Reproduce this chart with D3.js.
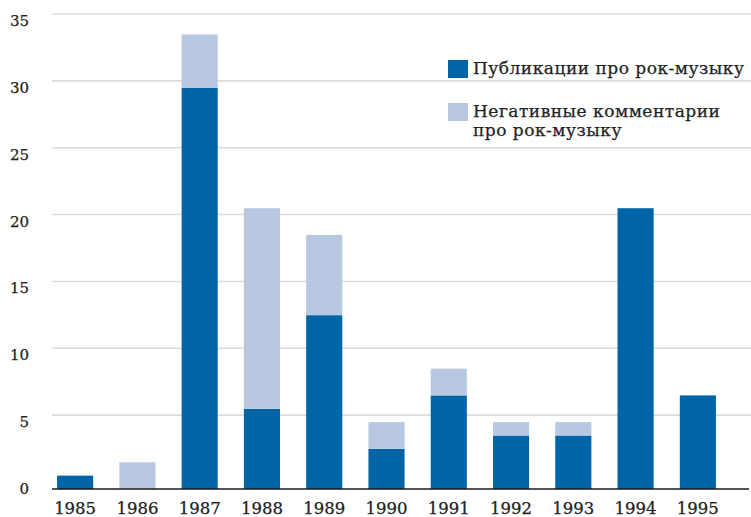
<!DOCTYPE html>
<html>
<head>
<meta charset="utf-8">
<script src="https://cdn.jsdelivr.net/npm/d3@7"></script>
<style>
  body { margin: 0; background: #fff; }
  text { font-family: "DejaVu Serif", serif; fill: #222; stroke: #222; stroke-width: 0.25px; }
</style>
</head>
<body>
<div id="chart"></div>
<script>
// data
let years = ['1985', '1986', '1987', '1988', '1989', '1990', '1991', '1992', '1993', '1994', '1995'];
let publications = [1, 0, 30, 6, 13, 3, 7, 4, 4, 21, 7];
let negative = [0, 2, 4, 15, 6, 2, 2, 1, 1, 0, 0];
let yTicks = [0, 5, 10, 15, 20, 25, 30, 35];
let legendLines = [['Публикации про рок-музыку'], ['Негативные комментарии', 'про рок-музыку']];

let config = {
    svg: {width: 751, height: 517},
    plot: {left: 52, right: 751, x0: 44, x1: 729, y0: 489, y1: 21},
    gridOffset: 7
};

let svg = d3.select('#chart')
    .append('svg')
        .attr('width', config.svg.width)
        .attr('height', config.svg.height);

let table = years.map((y, i) => ({year: y, pub: publications[i], neg: negative[i]}));
let keys = ['pub', 'neg'];

let series = d3.stack().keys(keys)(table);

let x = d3.scaleBand()
    .domain(years)
    .range([config.plot.x0, config.plot.x1])
    .paddingInner(0.42)
    .paddingOuter(0.21);

let y = d3.scaleLinear()
    .domain([0, 35])
    .range([config.plot.y0, config.plot.y1]);

let color = d3.scaleOrdinal()
    .domain(keys)
    .range(['#0065a7', '#b9c8e1']);

// gridlines (sit a little above the tick value, as in the original)
svg.append('g')
    .selectAll('line')
    .data(yTicks.filter(d => d > 0))
    .join('line')
        .attr('x1', config.plot.left)
        .attr('x2', config.plot.right)
        .attr('y1', d => y(d) - config.gridOffset)
        .attr('y2', d => y(d) - config.gridOffset)
        .style('stroke', '#dcdcdc')
        .style('stroke-width', 1.6);

// y labels
svg.append('g')
    .selectAll('text')
    .data(yTicks)
    .join('text')
        .attr('x', 29)
        .attr('y', d => y(d) + 1)
        .attr('text-anchor', 'end')
        .attr('dominant-baseline', 'middle')
        .style('font-size', '15px')
        .text(d => d);

// bars
svg.append('g')
    .selectAll('g')
    .data(series)
    .join('g')
        .attr('fill', d => color(d.key))
    .selectAll('rect')
    .data(d => d)
    .join('rect')
        .attr('x', d => x(d.data.year))
        .attr('width', x.bandwidth())
        .attr('y', d => y(d[1]))
        .attr('height', d => y(d[0]) - y(d[1]));

// baseline
svg.append('line')
    .attr('x1', config.plot.left)
    .attr('x2', 749)
    .attr('y1', y(0))
    .attr('y2', y(0))
    .style('stroke', '#1a1a1a')
    .style('stroke-width', 1.6);

// x labels
svg.append('g')
    .selectAll('text')
    .data(years)
    .join('text')
        .attr('x', d => x(d) + x.bandwidth() / 2)
        .attr('y', 514)
        .attr('text-anchor', 'middle')
        .style('font-size', '16.5px')
        .text(d => d);

// legend
let legend = svg.append('g')
    .attr('transform', 'translate(448,0)');

let legendY = [60, 103];
keys.forEach((k, i) => {
    let g = legend.append('g').attr('transform', `translate(0,${legendY[i]})`);
    g.append('rect')
        .attr('width', 20)
        .attr('height', 18)
        .attr('fill', color(k));
    g.append('text')
        .attr('x', 25)
        .attr('y', 14)
        .style('font-size', '17px')
        .style('letter-spacing', '0.5px')
        .selectAll('tspan')
        .data(legendLines[i])
        .join('tspan')
            .attr('x', 25)
            .attr('dy', (d, j) => j === 0 ? 0 : 19)
            .text(d => d);
});
</script>
</body>
</html>
